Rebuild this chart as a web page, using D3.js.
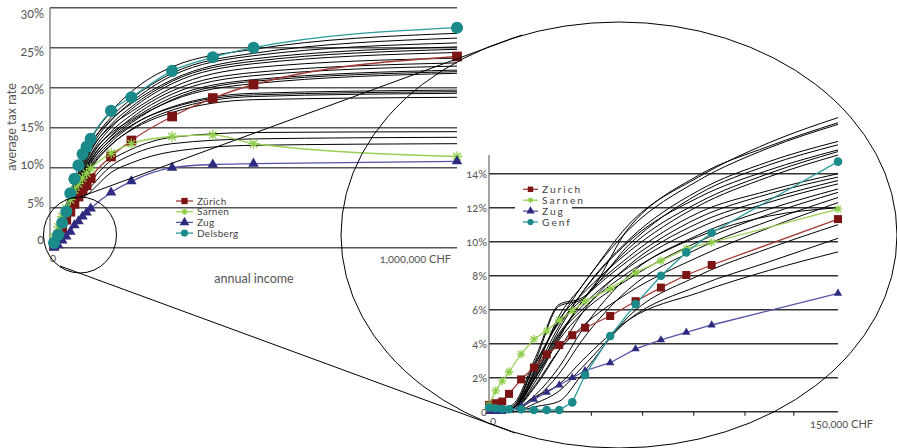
<!DOCTYPE html>
<html>
<head>
<meta charset="utf-8">
<script src="https://cdn.jsdelivr.net/npm/d3@7"></script>
<style>
body { margin: 0; background: #fff; }
svg text { font-family: Lato, "Open Sans", sans-serif; fill: #555; font-variant-numeric: oldstyle-nums; }
</style>
</head>
<body>
<svg id="chart" width="897" height="448"></svg>
<script>
// ---- left chart: income up to 1 million ----
const leftIncome = [10000, 20000, 30000, 40000, 50000, 60000, 70000, 80000, 90000, 100000, 150000, 200000, 300000, 400000, 500000, 1000000];
const leftZurich = [0.3, 1.4, 2.4, 3.5, 4.5, 5.5, 6.4, 7.2, 7.8, 8.7, 11.4, 13.4, 16.4, 18.7, 20.4, 23.9];
const leftSarnen = [1.4, 2.6, 3.9, 4.9, 6.0, 7.2, 8.0, 8.7, 9.3, 9.9, 11.8, 13.0, 13.9, 14.1, 13.0, 11.4];
const leftZug = [0, 0.3, 0.9, 1.4, 2.0, 2.8, 3.3, 3.9, 4.4, 4.9, 6.9, 8.3, 10.0, 10.4, 10.5, 10.8];
const leftDelsberg = [0.6, 1.6, 3.1, 4.5, 6.8, 8.6, 10.3, 11.7, 12.6, 13.6, 17.1, 18.8, 22.1, 23.8, 25.0, 27.5];

// other cantons (black lines), read at these incomes
const leftCurveIncome = [0, 50000, 100000, 150000, 200000, 300000, 500000, 1000000];
const leftCurves = [
    [0, 6.5, 13.4, 17.0, 19.5, 22.6, 24.8, 26.8],
    [0, 6.2, 12.8, 16.3, 18.6, 21.8, 24.3, 26.2],
    [0, 5.8, 12.4, 15.9, 18.2, 21.5, 24.0, 25.6],
    [0, 6.8, 12.9, 16.0, 18.0, 21.0, 23.6, 25.1],
    [0, 5.5, 12.0, 15.4, 17.6, 20.8, 23.3, 24.8],
    [0, 5.2, 11.6, 15.0, 17.3, 20.5, 23.0, 24.4],
    [0, 6.0, 12.2, 15.2, 17.0, 20.0, 22.5, 23.7],
    [0, 5.0, 11.2, 14.5, 16.6, 19.6, 21.9, 23.1],
    [0, 4.8, 10.8, 14.0, 16.2, 19.2, 21.5, 22.7],
    [0, 5.6, 11.5, 14.3, 16.0, 18.8, 21.0, 22.2],
    [0, 4.6, 10.5, 13.6, 15.6, 18.5, 20.8, 22.0],
    [0, 5.3, 11.0, 13.9, 15.8, 18.4, 20.5, 21.8],
    [0, 4.4, 10.2, 13.2, 15.2, 17.6, 19.3, 19.7],
    [0, 5.0, 10.6, 13.5, 15.3, 17.5, 19.1, 19.5],
    [0, 4.2, 9.8, 12.8, 14.8, 17.2, 18.9, 19.3],
    [0, 4.7, 10.0, 12.9, 14.7, 16.9, 18.5, 18.8],
    [0, 4.0, 8.2, 10.9, 12.3, 13.8, 14.4, 14.5],
    [0, 4.6, 7.6, 10.2, 11.6, 13.0, 13.6, 13.8],
    [0, 4.8, 7.0, 9.4, 10.6, 12.0, 12.8, 13.0]
];
const leftTicks = [0, 5, 10, 15, 20, 25, 30];

// ---- right chart: zoom on income up to 150,000 ----
const rightIncome = [0, 2900, 5700, 8600, 13800, 19300, 24800, 30200, 35800, 41300, 52100, 63000, 73900, 84800, 95700, 150000];
const rightZurich = [0.4, 0.5, 0.6, 1.05, 1.9, 2.6, 3.37, 3.92, 4.5, 4.94, 5.63, 6.5, 7.3, 8.04, 8.63, 11.33];
const rightSarnen = [0.39, 1.24, 1.8, 2.35, 3.39, 4.27, 4.76, 5.39, 5.94, 6.49, 7.24, 8.18, 8.88, 9.59, 9.96, 11.92];
const rightZug = [0, 0, 0, 0.06, 0.33, 0.73, 1.14, 1.57, 2.0, 2.41, 2.88, 3.69, 4.22, 4.67, 5.1, 6.96];
const rightGenf = [0.25, 0.2, 0.16, 0.14, 0.14, 0.1, 0.1, 0.1, 0.55, 2.16, 4.45, 6.33, 8.0, 9.37, 10.53, 14.71];

const rightCurveIncome = [0, 10000, 20000, 30000, 40000, 60000, 90000, 120000, 150000];
const rightCurves = [
    [0, 0.1, 2.5, 5.6, 7.4, 11.0, 13.8, 15.8, 17.3],
    [0, 0.2, 3.0, 6.2, 6.6, 10.8, 13.9, 15.6, 17.0],
    [0, 0.3, 2.8, 5.3, 7.4, 10.7, 13.6, 15.5, 16.9],
    [0, 0.1, 2.2, 4.8, 7.0, 10.1, 13.0, 14.7, 15.9],
    [0, 0.4, 3.2, 6.3, 6.7, 9.8, 12.8, 14.5, 15.7],
    [0, 0.2, 2.4, 5.0, 7.0, 10.0, 12.6, 14.2, 15.4],
    [0, 0.1, 1.8, 4.3, 6.5, 9.6, 12.3, 14.0, 15.3],
    [0, 0.2, 2.6, 5.4, 6.9, 9.4, 12.1, 13.8, 15.1],
    [0, 0.1, 2.0, 4.4, 6.5, 9.1, 11.7, 13.0, 14.0],
    [0, 0.3, 2.9, 5.2, 6.6, 8.9, 11.4, 12.8, 13.8],
    [0, 0.1, 1.5, 3.6, 5.8, 8.6, 11.1, 12.5, 13.6],
    [0, 0.2, 2.3, 4.6, 6.2, 8.5, 10.8, 12.3, 13.4],
    [0, 0.1, 1.0, 2.6, 4.8, 8.0, 10.4, 11.9, 13.1],
    [0, 0.2, 2.0, 4.2, 5.8, 7.8, 10.0, 11.6, 12.9],
    [0, 0.1, 0.8, 2.2, 4.2, 7.2, 9.6, 11.2, 12.6],
    [0, 0.1, 1.6, 3.6, 5.0, 7.0, 9.1, 10.8, 12.3],
    [0, 0.2, 2.1, 4.5, 6.0, 8.2, 10.3, 11.5, 12.0],
    [0, 0.0, 0.5, 1.2, 2.6, 5.4, 7.4, 8.8, 10.2],
    [0, 0.1, 0.9, 1.6, 3.0, 5.4, 7.0, 8.3, 9.4],
    [0, 0.0, 0.3, 0.6, 2.2, 5.6, 8.0, 9.6, 11.0]
];
const rightTicks = [0, 2, 4, 6, 8, 10, 12, 14];
const rightXTicks = [44000, 66000, 88000, 110000, 131000];

// asterisk marker for Sarnen
var symbolStar = {
    draw: function (context, size) {
        var r = Math.sqrt(size) / 2;
        var d = r * 0.72;
        context.moveTo(-r, 0); context.lineTo(r, 0);
        context.moveTo(0, -r); context.lineTo(0, r);
        context.moveTo(-d, -d); context.lineTo(d, d);
        context.moveTo(-d, d); context.lineTo(d, -d);
    }
};

var styles = {
    red:   { line: '#a33a34', fill: '#7d1414', symbol: d3.symbolSquare },
    green: { line: '#9ad055', fill: 'none', stroke: '#8fce4a', symbol: symbolStar },
    blue:  { line: '#5552a8', fill: '#2f2b80', symbol: d3.symbolTriangle },
    teal:  { line: '#2a9c9c', fill: '#1b8a8a', symbol: d3.symbolCircle }
};

var svg = d3.select('#chart');

function drawPanel(opt) {
    var g = svg.append('g');
    var x = opt.x, y = opt.y;

    g.selectAll('line.grid')
        .data(opt.ticks)
        .enter()
        .append('line')
        .attr('class', 'grid')
        .attr('x1', x.range()[0])
        .attr('x2', x.range()[1])
        .attr('y1', function (d) { return y(d); })
        .attr('y2', function (d) { return y(d); })
        .style('stroke', opt.gridColor)
        .style('stroke-width', 1.5);

    g.append('line')
        .attr('x1', x.range()[0]).attr('x2', x.range()[0])
        .attr('y1', opt.axisTop).attr('y2', y(0))
        .style('stroke', '#666').style('stroke-width', 1.2);

    var blackLine = d3.line()
        .x(function (d, i) { return x(opt.curveIncome[i]); })
        .y(function (d) { return y(d); })
        .curve(d3.curveMonotoneX);

    g.selectAll('path.canton')
        .data(opt.curves)
        .enter()
        .append('path')
        .attr('class', 'canton')
        .attr('d', blackLine)
        .style('fill', 'none')
        .style('stroke', '#000')
        .style('stroke-width', 1);

    var seriesLine = d3.line()
        .x(function (d, i) { return x(opt.income[i]); })
        .y(function (d) { return y(d); })
        .curve(opt.seriesCurve);

    opt.series.forEach(function (s) {
        var st = styles[s.style];
        g.append('path')
            .attr('d', seriesLine(s.values))
            .style('fill', 'none')
            .style('stroke', st.line)
            .style('stroke-width', 1.3);
    });
    opt.series.forEach(function (s) {
        var st = styles[s.style];
        g.selectAll(null)
            .data(s.values)
            .enter()
            .append('path')
            .attr('transform', function (d, i) { return 'translate(' + x(opt.income[i]) + ',' + y(d) + ')'; })
            .attr('d', d3.symbol().type(st.symbol).size(opt.sizes[s.style]))
            .style('fill', st.fill)
            .style('stroke', st.stroke || 'none')
            .style('stroke-width', 1.3);
    });
    return g;
}

// left chart
var xL = d3.scaleLinear().domain([0, 1000000]).range([50, 457]);
var yL = d3.scaleLinear().domain([0, 30]).range([247.7, 7.7]);
var yLabelL = d3.scaleLinear().domain([0, 30]).range([240, 14]);

drawPanel({
    x: xL, y: yL, ticks: leftTicks, gridColor: '#555', axisTop: 7.7,
    curveIncome: leftCurveIncome, curves: leftCurves, income: leftIncome,
    seriesCurve: d3.curveMonotoneX,
    sizes: { red: 95, green: 110, blue: 48, teal: 115 },
    series: [
        { name: 'Zürich', values: leftZurich, style: 'red' },
        { name: 'Sarnen', values: leftSarnen, style: 'green' },
        { name: 'Zug', values: leftZug, style: 'blue' },
        { name: 'Delsberg', values: leftDelsberg, style: 'teal' }
    ]
});

svg.selectAll('text.ytickL')
    .data(leftTicks)
    .enter()
    .append('text')
    .attr('x', 44)
    .attr('y', function (d) { return yLabelL(d); })
    .attr('dy', '0.35em')
    .attr('text-anchor', 'end')
    .style('font-size', '12.5px')
    .text(function (d) { return d === 0 ? '0' : d + '%'; });

svg.append('text').attr('transform', 'translate(16,127) rotate(-90)')
    .attr('text-anchor', 'middle').style('font-size', '12.5px').text('average tax rate');
svg.append('text').attr('x', xL(0) + 3).attr('y', 262).attr('text-anchor', 'middle')
    .style('font-size', '12px').text('0');
svg.append('text').attr('x', 451).attr('y', 263).attr('text-anchor', 'end')
    .style('font-size', '11px').text('1,000,000 CHF');
svg.append('text').attr('x', 254).attr('y', 283).attr('text-anchor', 'middle')
    .style('font-size', '12.5px').text('annual income');

function drawLegend(items, x0, y0, step, opt) {
    var lg = svg.append('g');
    if (opt.box) {
        lg.append('rect').attr('x', opt.box[0]).attr('y', opt.box[1])
            .attr('width', opt.box[2]).attr('height', opt.box[3]).style('fill', '#fff');
    }
    items.forEach(function (s, i) {
        var st = styles[s.style];
        var yy = y0 + i * step;
        lg.append('line').attr('x1', x0).attr('x2', x0 + opt.len).attr('y1', yy).attr('y2', yy)
            .style('stroke', st.line).style('stroke-width', 1.3);
        lg.append('path').attr('transform', 'translate(' + (x0 + opt.len / 2) + ',' + yy + ')')
            .attr('d', d3.symbol().type(st.symbol).size(opt.size))
            .style('fill', st.fill).style('stroke', st.stroke || 'none').style('stroke-width', 1.2);
        lg.append('text').attr('x', x0 + opt.len + 4).attr('y', yy).attr('dy', '0.35em')
            .style('font-size', opt.font).style('letter-spacing', opt.spacing)
            .style('fill', '#444')
            .text(s.name);
    });
}

drawLegend([
    { name: 'Zürich', style: 'red' },
    { name: 'Sarnen', style: 'green' },
    { name: 'Zug', style: 'blue' },
    { name: 'Delsberg', style: 'teal' }
], 176, 201, 10.7, { len: 17, size: 40, font: '10px', spacing: '0.3px' });

// right chart
var xR = d3.scaleLinear().domain([0, 150000]).range([489, 838]);
var yR = d3.scaleLinear().domain([0, 14]).range([411.7, 173.7]);

drawPanel({
    x: xR, y: yR, ticks: rightTicks, gridColor: '#333', axisTop: 155,
    curveIncome: rightCurveIncome, curves: rightCurves, income: rightIncome,
    seriesCurve: d3.curveLinear,
    sizes: { red: 64, green: 70, blue: 30, teal: 58 },
    series: [
        { name: 'Zurich', values: rightZurich, style: 'red' },
        { name: 'Sarnen', values: rightSarnen, style: 'green' },
        { name: 'Zug', values: rightZug, style: 'blue' },
        { name: 'Genf', values: rightGenf, style: 'teal' }
    ]
});

svg.selectAll('line.xtickR')
    .data(rightXTicks)
    .enter()
    .append('line')
    .attr('x1', function (d) { return xR(d); })
    .attr('x2', function (d) { return xR(d); })
    .attr('y1', yR(0)).attr('y2', yR(0) + 4)
    .style('stroke', '#333').style('stroke-width', 1.2);

svg.selectAll('text.ytickR')
    .data(rightTicks)
    .enter()
    .append('text')
    .attr('x', 487)
    .attr('y', function (d) { return yR(d); })
    .attr('dy', '0.35em')
    .attr('text-anchor', 'end')
    .style('font-size', '11px')
    .text(function (d) { return d === 0 ? '0' : d + '%'; });

svg.append('text').attr('x', xR(0) + 4).attr('y', 425).attr('text-anchor', 'middle')
    .style('font-size', '11.5px').text('0');
svg.append('text').attr('x', 873).attr('y', 428).attr('text-anchor', 'end')
    .style('font-size', '11px').text('150,000 CHF');

drawLegend([
    { name: 'Zurich', style: 'red' },
    { name: 'Sarnen', style: 'green' },
    { name: 'Zug', style: 'blue' },
    { name: 'Genf', style: 'teal' }
], 523, 189.3, 10.9, { len: 15, size: 30, font: '10.2px', spacing: '2px', box: [515, 180, 57, 50] });

// magnifier: small circle, big ellipse, connecting lines
svg.append('ellipse').attr('cx', 80).attr('cy', 235).attr('rx', 36.5).attr('ry', 38)
    .style('fill', 'none').style('stroke', '#000').style('stroke-width', 1);
svg.append('ellipse').attr('cx', 619).attr('cy', 235).attr('rx', 278).attr('ry', 213)
    .style('fill', 'none').style('stroke', '#000').style('stroke-width', 1);
svg.append('line').attr('x1', 80).attr('y1', 197).attr('x2', 522).attr('y2', 35)
    .style('stroke', '#000').style('stroke-width', 1);
svg.append('line').attr('x1', 60).attr('y1', 266).attr('x2', 515).attr('y2', 433)
    .style('stroke', '#000').style('stroke-width', 1);
</script>
</body>
</html>
